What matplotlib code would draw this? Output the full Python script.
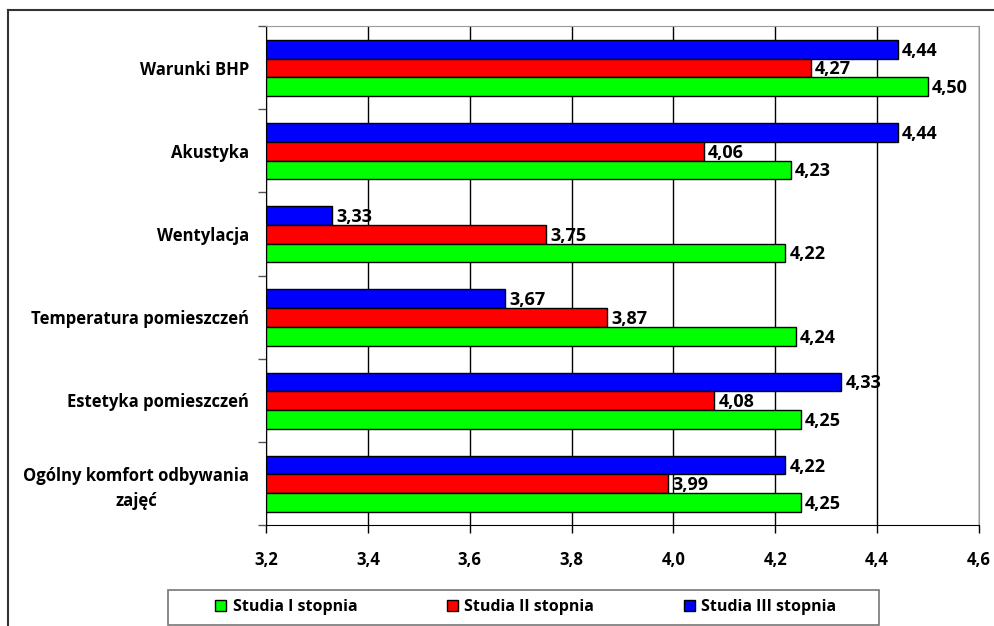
import matplotlib
matplotlib.use("Agg")
import matplotlib.pyplot as plt
from matplotlib.patches import Patch, Rectangle
from matplotlib.lines import Line2D
import numpy as np

categories = ["Warunki BHP", "Akustyka", "Wentylacja", "Temperatura pomieszczeń",
              "Estetyka pomieszczeń", "Ogólny komfort odbywania\nzajęć"]
studia_III = [4.44, 4.44, 3.33, 3.67, 4.33, 4.22]
studia_II = [4.27, 4.06, 3.75, 3.87, 4.08, 3.99]
studia_I = [4.50, 4.23, 4.22, 4.24, 4.25, 4.25]
x_ticks = [3.2, 3.4, 3.6, 3.8, 4.0, 4.2, 4.4, 4.6]
series_names = ["Studia I stopnia", "Studia II stopnia", "Studia III stopnia"]

plt.rcParams['font.family'] = ['Open Sans', 'DejaVu Sans']
plt.rcParams['font.weight'] = 'bold'

W, H = 995, 626
fig = plt.figure(figsize=(W / 100, H / 100), dpi=100)
ax = fig.add_axes([266 / W, 1 - 525 / H, (979 - 266) / W, (525 - 26) / H])

n = len(categories)
h = 0.225
centers = np.arange(n) + 0.505
left = 3.2

series = [(studia_III, '#0000FF', -h), (studia_II, '#FF0000', 0.0), (studia_I, '#00FF00', h)]
for vals, col, off in series:
    vals = np.array(vals)
    ax.barh(centers + off, vals - left, left=left, height=h, color=col,
            edgecolor='black', linewidth=1.0, zorder=3)
    for y, v in zip(centers + off, vals):
        ax.annotate(f"{v:.2f}".replace('.', ','), (v, y), xytext=(3, -1),
                    textcoords='offset points', ha='left', va='center',
                    fontsize=13, fontweight='bold', zorder=4)

ax.set_xlim(3.2, 4.6)
ax.set_ylim(n, 0)
ax.set_xticks(x_ticks)
ax.set_xticklabels([f"{t:.1f}".replace('.', ',') for t in x_ticks], fontsize=12, fontweight='bold')
ax.xaxis.grid(True, color='black', linewidth=1.0, zorder=0)
ax.set_axisbelow(True)
ax.tick_params(axis='x', direction='out', length=6, width=1, pad=13, color='black')

ax.set_yticks(np.arange(n + 1))
ax.set_yticklabels([])
ax.tick_params(axis='y', which='major', direction='out', length=6, width=1, color='#555555')
ax.set_yticks(np.arange(n) + 0.5, minor=True)
ax.set_yticklabels(categories, minor=True, fontsize=12, fontweight='bold',
                   multialignment='center', linespacing=1.5)
ax.tick_params(axis='y', which='minor', length=0, pad=12)

ax.spines['left'].set_color('black')
ax.spines['bottom'].set_color('black')
ax.spines['top'].set_color('#999999')
ax.spines['right'].set_color('#999999')

# legend
handles = [Patch(facecolor='#00FF00', edgecolor='black'),
           Patch(facecolor='#FF0000', edgecolor='black'),
           Patch(facecolor='#0000FF', edgecolor='black')]
leg = fig.legend(handles, series_names, loc='center left', bbox_to_anchor=(215 / W, 1 - 607 / H),
                 ncol=3, fontsize=11.5, frameon=False,
                 handlelength=0.7, handleheight=0.7, handletextpad=0.4, columnspacing=5.6,
                 borderpad=0, borderaxespad=0)
for t in leg.get_texts():
    t.set_fontweight('bold')
fig.add_artist(Rectangle((168 / W, 1 - 625 / H), (879 - 168) / W, (625 - 590) / H,
                         transform=fig.transFigure, fill=False, edgecolor='#777777',
                         linewidth=1.2))

# outer chart border (top and left visible)
fig.add_artist(Line2D([8 / W, 1.0], [1 - 10 / H, 1 - 10 / H], transform=fig.transFigure,
                      color='#333333', linewidth=1.5))
fig.add_artist(Line2D([8 / W, 8 / W], [1 - 10 / H, 0], transform=fig.transFigure,
                      color='#333333', linewidth=1.5))

fig.savefig("out.png", dpi=100)
